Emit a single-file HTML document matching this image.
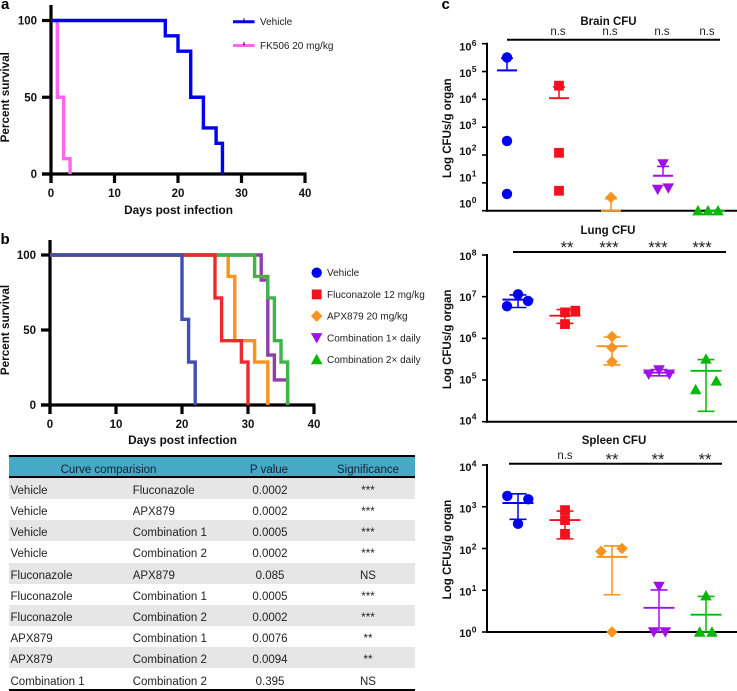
<!DOCTYPE html>
<html>
<head>
<meta charset="utf-8">
<title>Survival and CFU figure</title>
<style>
html,body{margin:0;padding:0;background:#fff}
#page{position:relative;width:737px;height:691px;overflow:hidden;font-family:"Liberation Sans",sans-serif}
#figure{position:absolute;left:0;top:0}
#table-box{position:absolute;left:9px;top:454.5px;width:406px;height:236px;color:#222;font-size:11.5px}
.rule{position:absolute;left:0;width:406px;height:2px;background:#000}
#table-head{position:absolute;left:0;top:2px;width:406px;height:19.5px;background:#46a9c6;color:#123;line-height:26px}
.row{position:absolute;left:0;width:406px;height:21px;line-height:26px;white-space:nowrap}
.row.s{background:#e6e6e6}
.cell{position:absolute;top:0}
.c1{left:1.5px}
.c2{left:123.7px}
.c3{left:221px;width:80px;text-align:center}
.c4{left:319px;width:80px;text-align:center}
</style>
</head>
<body>
<div id="page">
<svg id="figure" width="737" height="691" viewBox="0 0 737 691" xmlns="http://www.w3.org/2000/svg"></svg>
<div id="table-box">
<div id="table-head">
<span class="cell" style="left:0;width:199px;text-align:center">Curve comparision</span>
<span class="cell c3" style="left:220px">P value</span>
<span class="cell c4">Significance</span>
</div>
<div class="rule" style="top:0"></div>
<div class="rule" style="top:21.5px"></div>
<div class="row s" style="top:23.2px"><span class="cell c1">Vehicle</span><span class="cell c2">Fluconazole</span><span class="cell c3">0.0002</span><span class="cell c4">***</span></div>
<div class="row" style="top:44.4px"><span class="cell c1">Vehicle</span><span class="cell c2">APX879</span><span class="cell c3">0.0002</span><span class="cell c4">***</span></div>
<div class="row s" style="top:65.6px"><span class="cell c1">Vehicle</span><span class="cell c2">Combination 1</span><span class="cell c3">0.0005</span><span class="cell c4">***</span></div>
<div class="row" style="top:86.8px"><span class="cell c1">Vehicle</span><span class="cell c2">Combination 2</span><span class="cell c3">0.0002</span><span class="cell c4">***</span></div>
<div class="row s" style="top:108px"><span class="cell c1">Fluconazole</span><span class="cell c2">APX879</span><span class="cell c3">0.085</span><span class="cell c4">NS</span></div>
<div class="row" style="top:129.2px"><span class="cell c1">Fluconazole</span><span class="cell c2">Combination 1</span><span class="cell c3">0.0005</span><span class="cell c4">***</span></div>
<div class="row s" style="top:150.4px"><span class="cell c1">Fluconazole</span><span class="cell c2">Combination 2</span><span class="cell c3">0.0002</span><span class="cell c4">***</span></div>
<div class="row" style="top:171.6px"><span class="cell c1">APX879</span><span class="cell c2">Combination 1</span><span class="cell c3">0.0076</span><span class="cell c4">**</span></div>
<div class="row s" style="top:192.8px"><span class="cell c1">APX879</span><span class="cell c2">Combination 2</span><span class="cell c3">0.0094</span><span class="cell c4">**</span></div>
<div class="row" style="top:214px"><span class="cell c1">Combination 1</span><span class="cell c2">Combination 2</span><span class="cell c3">0.395</span><span class="cell c4">NS</span></div>
<div class="rule" style="top:234.5px"></div>
</div>
</div>
<script>
// ---- Survival data: panel a
const aVehicleDays = [0, 18, 20, 22, 24, 26, 27];
const aVehicleSurvival = [100, 90, 80, 50, 30, 20, 0];
const aFk506Days = [0, 1, 2, 3];
const aFk506Survival = [100, 50, 10, 0];
// ---- Survival data: panel b
const bVehicleDays = [0, 20, 21, 22];
const bVehicleSurvival = [100, 57.1, 28.6, 0];
const bFluconazoleDays = [0, 25, 26, 29, 30];
const bFluconazoleSurvival = [100, 71.4, 42.9, 28.6, 0];
const bApxDays = [0, 27, 28, 31, 33];
const bApxSurvival = [100, 85.7, 42.9, 28.6, 0];
const bCombo1Days = [0, 32, 33, 34, 36];
const bCombo1Survival = [100, 83.3, 33.3, 16.7, 0];
const bCombo2Days = [0, 31, 33, 34, 35, 36];
const bCombo2Survival = [100, 85.7, 71.4, 42.9, 28.6, 0];
const xTickLabels = [0, 10, 20, 30, 40];
const yTickLabels = [0, 50, 100];
// ---- CFU data: [vehicle, fluconazole, apx879, combo1x, combo2x]
const groupNames = ['vehicle', 'fluconazole', 'apx879', 'combination-1x', 'combination-2x'];
const brainPoints = [[3.2e5, 320, 4], [3.1e4, 120, 5.2], [3], [48, 5.8, 6.5], [1, 1, 1]];
const brainSlots = [[0, 0, 0], [0, 0, 0], [0], [0, -0.53, 0.53], [-1.7, -0.7, 0.3]];
const brainMeans = [1.1e5, 1.1e4, 1, 18, 1];
const brainUpper = [3e5, 2.8e4, 2.7, 39, 1];
const brainLower = [1.1e5, 1.1e4, 1, 18, 1];
const brainSig = ['n.s', 'n.s', 'n.s', 'n.s'];
const lungPoints = [[1.14e7, 5.9e6, 7.9e6], [4.6e6, 4.2e6, 2.2e6], [1.1e6, 6e5, 2.75e5], [1.74e5, 1.38e5, 1.38e5], [3.2e5, 9.5e4, 5.9e4]];
const lungSlots = [[0, -1.1, 1], [1.03, 0, 0], [0, 0, 0], [0, -1.03, 1.03], [0, 1.03, -1.03]];
const lungMeans = [8.5e6, 3.5e6, 6.5e5, 1.5e5, 1.66e5];
const lungUpper = [1.1e7, 4.9e6, 1.07e6, 1.78e5, 3.1e5];
const lungLower = [5.5e6, 2.3e6, 2.3e5, 1.26e5, 1.78e4];
const lungSig = ['**', '***', '***', '***'];
const spleenPoints = [[1820, 1510, 390], [830, 480, 224], [85, 100, 1], [12.3, 1, 1], [7.4, 1, 1]];
const spleenSlots = [[-1.07, 1.03, 0], [0, 0, 0], [-1.1, 1, 0], [0, -0.53, 0.63], [0, -0.63, 0.6]];
const spleenMeans = [1230, 480, 63, 3.8, 2.6];
const spleenUpper = [2040, 790, 115, 10.2, 7.1];
const spleenLower = [500, 170, 7.8, 1, 1];
const spleenSig = ['n.s', '**', '**', '**'];

const NS = 'http://www.w3.org/2000/svg';
const svg = document.getElementById('figure');
const FONT = '"Liberation Sans", sans-serif';
const groupColors = ['#0000f0', '#f5101e', '#f7931e', '#a010e8', '#08b808'];
const groupShapes = ['circle', 'square', 'diamond', 'down', 'up'];

function mk(tag, attrs) {
  const el = document.createElementNS(NS, tag);
  for (const k in attrs) el.setAttribute(k, attrs[k]);
  svg.appendChild(el);
  return el;
}
function line(x1, y1, x2, y2, color, w) {
  return mk('line', {x1: x1, y1: y1, x2: x2, y2: y2, stroke: color, 'stroke-width': w});
}
function text(x, y, str, size, weight, anchor, color) {
  const t = mk('text', {x: x, y: y, 'font-size': size, 'font-weight': weight, 'text-anchor': anchor, fill: color || '#111', 'font-family': FONT});
  t.textContent = str;
  return t;
}
function marker(shape, x, y, color) {
  let el;
  if (shape === 'circle') el = mk('circle', {cx: x, cy: y, r: 5.2, fill: color});
  else if (shape === 'square') el = mk('rect', {x: x - 4.9, y: y - 4.9, width: 9.8, height: 9.8, fill: color});
  else if (shape === 'diamond') el = mk('polygon', {points: [x, y - 5.8, x + 5.8, y, x, y + 5.8, x - 5.8, y].join(','), fill: color});
  else if (shape === 'down') el = mk('polygon', {points: [x - 5.8, y - 4.7, x + 5.8, y - 4.7, x, y + 5.7].join(','), fill: color});
  else el = mk('polygon', {points: [x - 5.8, y + 4.7, x + 5.8, y + 4.7, x, y - 5.7].join(','), fill: color});
  return el;
}

// ---------- survival plots
function survivalAxes(x0, x1, y100, y0, yTop, titleGap) {
  const sx = d => x0 + (x1 - x0) * d / 40;
  const sy = v => y0 + (y100 - y0) * v / 100;
  const yAxis = line(x0, yTop, x0, y0 + 9, '#000', 3.2);
  
  
  const xAxis = line(x0 - 9, y0, x1 + 1.5, y0, '#000', 3.2);
  
  
  xTickLabels.forEach(t => {
    const tick = line(sx(t), y0, sx(t), y0 + 9, '#000', 3.2);
    
    
    const lab = text(sx(t), y0 + 23, String(t), 11.5, 'bold', 'middle');
    
    
  });
  yTickLabels.forEach(t => {
    const tick = line(x0 - 9, sy(t), x0, sy(t), '#000', 3.2);
    
    
    const lab = text(x0 - 14, sy(t) + 4, String(t), 11.5, 'bold', 'end');
    
    
  });
  const xt = text((x0 + x1) / 2 + 0.5, y0 + titleGap, 'Days post infection', 11.8, 'bold', 'middle');
  
  
  const cy = (y100 + y0) / 2;
  const yt = text(0, 0, 'Percent survival', 11.7, 'bold', 'middle');
  yt.setAttribute('transform', 'translate(9,' + cy + ') rotate(-90)');
  
  
  return {sx: sx, sy: sy};
}
function stepPath(days, surv, ax) {
  let d = 'M' + ax.sx(days[0]) + ' ' + ax.sy(surv[0]);
  for (let i = 1; i < days.length; i++) {
    d += 'H' + ax.sx(days[i]) + 'V' + ax.sy(surv[i]);
  }
  return d;
}
function curve(days, surv, ax, color) {
  return mk('path', {d: stepPath(days, surv, ax), fill: 'none', stroke: color, 'stroke-width': 3.4, 'stroke-linejoin': 'miter'});
}

// panel a
const axA = survivalAxes(51, 305, 20.5, 174, 5, 40);
const cA2 = curve(aFk506Days, aFk506Survival, axA, '#ff66ee');


const cA1 = curve(aVehicleDays, aVehicleSurvival, axA, '#0000ee');


[['Vehicle', '#0000ee', 21.7], ['FK506 20 mg/kg', '#ff66ee', 45.5]].forEach(e => {
  const l = line(233, e[2], 254.5, e[2], e[1], 3);
  
  
  const m = line(244, e[2] - 3.5, 244, e[2], '#000', 1);
  
  
  const t = text(260, e[2] + 3.5, e[0], 10, 'normal', 'start', '#222');
  
  
});

// panel b
const axB = survivalAxes(50, 314, 255, 405, 240, 39);
const cB4 = curve(bCombo1Days, bCombo1Survival, axB, '#8e3fa8');


const cB3 = curve(bApxDays, bApxSurvival, axB, '#f7931e');


const cB5 = curve(bCombo2Days, bCombo2Survival, axB, '#3db54a');


const cB2 = curve(bFluconazoleDays, bFluconazoleSurvival, axB, '#ee2a2e');


const cB1 = curve(bVehicleDays, bVehicleSurvival, axB, '#4050b0');


['Vehicle', 'Fluconazole 12 mg/kg', 'APX879 20 mg/kg', 'Combination 1\u00d7 daily', 'Combination 2\u00d7 daily'].forEach((s, i) => {
  const y = 272.7 + i * 21.7;
  const m = marker(groupShapes[i], 316.7, y, groupColors[i]);
  
  
  const t = text(327, y + 3.5, s, 10, 'normal', 'start', '#222');
  
  
});

// ---------- CFU dot plots
function cfuPlot(cfg) {
  const sy = v => cfg.yBottom - (Math.log10(v) - cfg.minExp) * (cfg.yBottom - cfg.yTop) / (cfg.maxExp - cfg.minExp);
  const gx = i => cfg.groupStart + cfg.groupStep * i;
  const title = text(cfg.titleX, cfg.titleY, cfg.title, 11.5, 'bold', 'middle');
  
  
  const sigLine = line(cfg.sigX1, cfg.sigY, cfg.sigX2, cfg.sigY, '#000', 2);
  
  
  cfg.sig.forEach((s, i) => {
    const stars = s !== 'n.s';
    const t = text(cfg.sigLabelX[i], stars ? cfg.sigY + 1.2 : cfg.sigY - 4.5, s, stars ? 16.5 : 11.5, 'normal', 'middle', '#222');
    
    
  });
  const yAxis = line(cfg.axisX, cfg.yTop - 1, cfg.axisX, cfg.yBottom + 1, '#000', 2);
  
  
  for (let e = cfg.minExp; e <= cfg.maxExp; e++) {
    const y = sy(Math.pow(10, e));
    const frac = (e - cfg.minExp) / (cfg.maxExp - cfg.minExp);
    const base = y + cfg.labelOffsetBottom + (cfg.labelOffsetTop - cfg.labelOffsetBottom) * frac;
    const tick = line(cfg.axisX - 5, y, cfg.axisX, y, '#000', 1.6);
    
    
    const lab = text(471.5, base, '10', 11, 'bold', 'end');
    
    
    const sup = text(471.8, base - 4.7, String(e), 8.5, 'bold', 'start');
    
    
  }
  const yt = text(0, 0, 'Log CFUs/g organ', 11.5, 'bold', 'middle');
  yt.setAttribute('transform', 'translate(451,' + ((cfg.yTop + cfg.yBottom) / 2 + 1) + ') rotate(-90)');
  
  
  const xAxis = line(cfg.axisX - 1, cfg.yBottom, 737, cfg.yBottom, '#000', 2);
  
  
  cfg.points.forEach((vals, g) => {
    const c = groupColors[g];
    const x = gx(g);
    vals.forEach((v, j) => {
      const m = marker(groupShapes[g], x + cfg.slots[g][j] * 10, sy(v), c);
      
      
    });
    const stem = line(x, sy(cfg.upper[g]), x, sy(cfg.lower[g]), c, 1.5);
    
    
    const mean = line(x - cfg.meanHalf, sy(cfg.means[g]), x + cfg.meanHalf, sy(cfg.means[g]), c, 1.9);
    
    
    const capU = line(x - cfg.capHalf, sy(cfg.upper[g]), x + cfg.capHalf, sy(cfg.upper[g]), c, 1.6);
    
    
    const capL = line(x - cfg.capHalf, sy(cfg.lower[g]), x + cfg.capHalf, sy(cfg.lower[g]), c, 1.6);
    
    
  });
}
cfuPlot({title: 'Brain CFU', titleX: 608.5, titleY: 25, axisX: 487, yTop: 43.7, yBottom: 210.7, minExp: 0, maxExp: 6,
  labelOffsetTop: 7, labelOffsetBottom: -3.2,
  groupStart: 507, groupStep: 52, meanHalf: 10, capHalf: 6, sigX1: 507, sigX2: 720, sigY: 39.7, sigLabelX: [558, 610, 662, 707],
  sig: brainSig, points: brainPoints, slots: brainSlots, means: brainMeans, upper: brainUpper, lower: brainLower});
cfuPlot({title: 'Lung CFU', titleX: 608, titleY: 234, axisX: 487, yTop: 255, yBottom: 421.7, minExp: 4, maxExp: 8,
  labelOffsetTop: 5, labelOffsetBottom: 2.7,
  groupStart: 518, groupStep: 47, meanHalf: 15.5, capHalf: 8.5, sigX1: 513, sigX2: 726, sigY: 252, sigLabelX: [567, 609, 658, 702],
  sig: lungSig, points: lungPoints, slots: lungSlots, means: lungMeans, upper: lungUpper, lower: lungLower});
cfuPlot({title: 'Spleen CFU', titleX: 614, titleY: 444, axisX: 487, yTop: 465, yBottom: 632, minExp: 0, maxExp: 4,
  labelOffsetTop: 6, labelOffsetBottom: 5,
  groupStart: 518, groupStep: 47, meanHalf: 15.5, capHalf: 8.5, sigX1: 509, sigX2: 722, sigY: 463.7, sigLabelX: [565, 612, 658, 705],
  sig: spleenSig, points: spleenPoints, slots: spleenSlots, means: spleenMeans, upper: spleenUpper, lower: spleenLower});

// panel letters
const la = text(1, 9, 'a', 15, 'bold', 'start', '#000');


const lb = text(0.5, 244, 'b', 15, 'bold', 'start', '#000');


const lc = text(441.5, 9, 'c', 15, 'bold', 'start', '#000');


</script>
</body>
</html>
